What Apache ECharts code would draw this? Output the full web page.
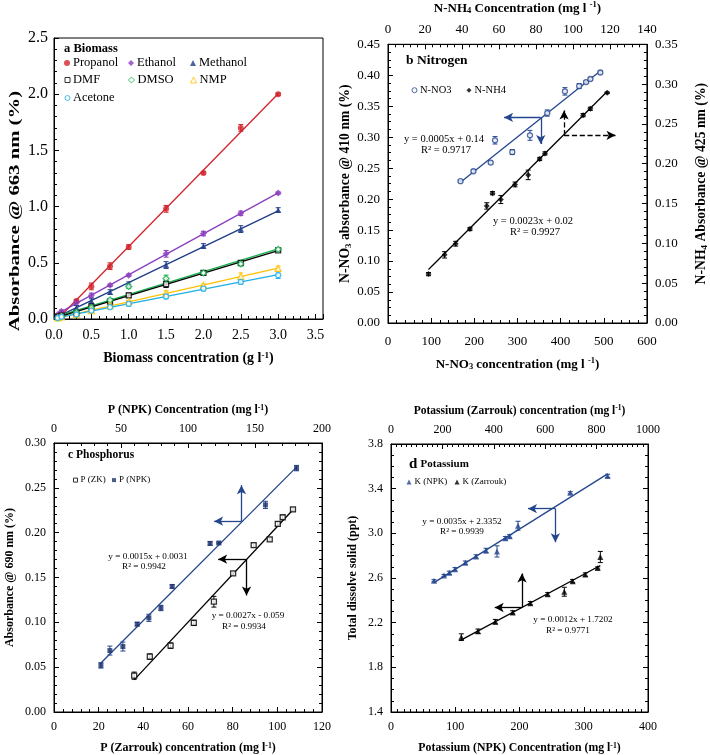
<!DOCTYPE html>
<html><head><meta charset="utf-8">
<script src="https://cdn.jsdelivr.net/npm/echarts@6/dist/echarts.min.js"></script>
<style>html,body{margin:0;padding:0;background:#fff}#c{width:710px;height:755px}</style>
</head><body><div id="c"></div>
<script>
// ---------- Panel a: Biomass ----------
const biomassX   = [0.05, 0.1, 0.3, 0.5, 0.75, 1.0, 1.5, 2.0, 2.5, 3.0];
const propanol   = [0.02, 0.05, 0.16, 0.29, 0.47, 0.64, 0.98, 1.30, 1.70, 2.00];
const propanolE  = [0, 0, 0.01, 0.03, 0.03, 0.02, 0.03, 0.01, 0.03, 0.01];
const ethanol    = [0.04, 0.07, 0.145, 0.21, 0.30, 0.39, 0.58, 0.76, 0.94, 1.12];
const ethanolE   = [0, 0.01, 0.01, 0.02, 0.01, 0.01, 0.03, 0.02, 0.02, 0.01];
const methanol   = [0.03, 0.05, 0.10, 0.16, 0.24, 0.31, 0.48, 0.65, 0.80, 0.97];
const methanolE  = [0, 0, 0.02, 0.02, 0.02, 0.02, 0.03, 0.02, 0.03, 0.02];
const dmf        = [0.02, 0.03, 0.05, 0.11, 0.155, 0.21, 0.31, 0.41, 0.50, 0.61];
const dmfE       = [0, 0, 0.01, 0.01, 0.01, 0.02, 0.03, 0.02, 0.02, 0.01];
const dmso       = [0.01, 0.02, 0.06, 0.10, 0.17, 0.29, 0.36, 0.41, 0.49, 0.62];
const dmsoE      = [0, 0, 0.01, 0.01, 0.01, 0.02, 0.03, 0.01, 0.02, 0.01];
const nmp        = [0.01, 0.02, 0.04, 0.075, 0.12, 0.155, 0.23, 0.30, 0.38, 0.45];
const nmpE       = [0, 0, 0.01, 0.01, 0.01, 0.01, 0.02, 0.01, 0.03, 0.02];
const acetone    = [0.01, 0.02, 0.04, 0.075, 0.105, 0.135, 0.20, 0.27, 0.33, 0.39];
const acetoneE   = [0, 0, 0.01, 0.01, 0.01, 0.02, 0.02, 0.02, 0.02, 0.03];

// ---------- Panel b: Nitrogen ----------
const no3X  = [168, 198, 238, 248, 288, 329, 369, 410, 443, 459, 469, 492];
const no3Y  = [0.229, 0.245, 0.259, 0.295, 0.276, 0.303, 0.339, 0.374, 0.3825, 0.389, 0.394, 0.4045];
const no3E  = [0.001, 0.002, 0.002, 0.006, 0.004, 0.008, 0.005, 0.006, 0.004, 0.002, 0.002, 0.002];
const nh4X  = [21.9, 30.6, 36.6, 44.3, 53.4, 56.5, 61.0, 68.7, 75.8, 82.0, 84.9, 105.5, 109.4, 118.5];
const nh4Y  = [0.0614, 0.0856, 0.0996, 0.118, 0.147, 0.163, 0.155, 0.174, 0.186, 0.206, 0.213, 0.261, 0.269, 0.289];
const nh4E  = [0.002, 0.004, 0.003, 0.002, 0.004, 0.002, 0.005, 0.003, 0.006, 0.002, 0.002, 0.002, 0.002, 0.001];

// ---------- Panel c: Phosphorus ----------
const pNpkX = [35.0, 41.7, 51.4, 62.1, 70.8, 79.8, 88.2, 116.5, 123.0, 157.8, 181.0];
const pNpkY = [0.052, 0.0685, 0.073, 0.098, 0.105, 0.116, 0.140, 0.188, 0.1885, 0.231, 0.272];
const pNpkE = [0.003, 0.005, 0.005, 0.002, 0.004, 0.003, 0.002, 0.002, 0.001, 0.004, 0.003];
const pZkX  = [35.9, 42.9, 52.2, 62.6, 71.6, 80.2, 89.4, 96.6, 100.2, 102.4, 107.0];
const pZkY  = [0.0405, 0.0618, 0.074, 0.0994, 0.123, 0.1546, 0.186, 0.1925, 0.2098, 0.2172, 0.226];
const pZkE  = [0.004, 0.003, 0.003, 0.003, 0.006, 0.002, 0.002, 0.002, 0.002, 0.002, 0.002];

// ---------- Panel d: Potassium ----------
const kNpkX = [66.9, 82.5, 90.8, 99.6, 115.7, 132.3, 147.9, 165.0, 178.0, 184.7, 197.7, 279.0, 337.2];
const kNpkY = [2.575, 2.622, 2.646, 2.678, 2.737, 2.793, 2.846, 2.838, 2.956, 2.973, 3.068, 3.363, 3.514];
const kNpkE = [0.01, 0.01, 0.015, 0.015, 0.015, 0.015, 0.02, 0.05, 0.015, 0.015, 0.04, 0.01, 0.015];
const kZarX = [273.7, 338.5, 406.0, 473.4, 542.2, 609.6, 674.4, 706.9, 756.2, 804.2, 814.5];
const kZarY = [2.070, 2.123, 2.209, 2.292, 2.374, 2.454, 2.477, 2.572, 2.631, 2.690, 2.788];
const kZarE = [0.03, 0.02, 0.02, 0.015, 0.015, 0.015, 0.04, 0.015, 0.015, 0.01, 0.05];

const FONT = 'Liberation Serif';
const BLUE = '#24468e';

function pairs(xs, ys) { return xs.map((x, i) => [x, ys[i]]).filter(d => d[1] != null); }
function fitLine(xs, ys) {
  const p = pairs(xs, ys); const n = p.length;
  let sx = 0, sy = 0, sxx = 0, sxy = 0;
  p.forEach(([x, y]) => { sx += x; sy += y; sxx += x * x; sxy += x * y; });
  const b = (n * sxy - sx * sy) / (n * sxx - sx * sx);
  const a = (sy - b * sx) / n;
  const x0 = Math.min(...p.map(d => d[0])), x1 = Math.max(...p.map(d => d[0]));
  return [[x0, a + b * x0], [x1, a + b * x1]];
}
function errSeries(xs, ys, es, color, xi, yi) {
  return {
    type: 'custom', xAxisIndex: xi, yAxisIndex: yi, silent: true, z: 3,
    data: xs.map((x, i) => [x, ys[i], es[i]]).filter(d => d[1] != null && d[2] > 0),
    encode: { x: 0, y: 1 },
    renderItem: function (params, api) {
      const x = api.value(0), y = api.value(1), e = api.value(2);
      const t = api.coord([x, y + e]), b = api.coord([x, y - e]);
      const w = 2.5, st = { stroke: color, lineWidth: 1 };
      return { type: 'group', children: [
        { type: 'line', shape: { x1: t[0], y1: t[1], x2: b[0], y2: b[1] }, style: st },
        { type: 'line', shape: { x1: t[0] - w, y1: t[1], x2: t[0] + w, y2: t[1] }, style: st },
        { type: 'line', shape: { x1: b[0] - w, y1: b[1], x2: b[0] + w, y2: b[1] }, style: st }
      ]};
    }
  };
}
function scatter(name, xs, ys, symbol, color, open, xi, yi, size) {
  return {
    name: name, type: 'scatter', xAxisIndex: xi, yAxisIndex: yi, z: 4,
    symbol: symbol, symbolSize: size || 6, data: pairs(xs, ys),
    itemStyle: open ? { color: '#fff', borderColor: color, borderWidth: 1.3 } : { color: color }
  };
}
function trend(name, xs, ys, color, xi, yi, arrows) {
  const s = {
    name: name, type: 'line', xAxisIndex: xi, yAxisIndex: yi, z: 2, silent: true,
    symbol: 'none', data: fitLine(xs, ys), lineStyle: { color: color, width: 1.3 }
  };
  if (arrows) s.markLine = arrows;
  return s;
}
function arrowSet(color, dashed, segs) {
  return {
    silent: true, symbol: ['none', 'arrow'], symbolSize: [7, 9],
    label: { show: false }, animation: false,
    lineStyle: { color: color, width: 1.3, type: dashed ? 'dashed' : 'solid' },
    emphasis: { disabled: true },
    data: segs.map(s => [{ coord: s[0] }, { coord: s[1] }])
  };
}
const tickIn = { show: true, inside: true, length: 5, lineStyle: { color: '#000' } };
const minorIn = n => ({ show: true, splitNumber: n, length: 3, lineStyle: { color: '#000' } });
const lbl = (size, dec, extra) => Object.assign({ fontFamily: FONT, fontSize: size, color: '#000',
  formatter: v => (+v).toFixed(dec) }, extra || {});
const rich = size => ({
  n: { fontFamily: FONT, fontWeight: 'bold', fontSize: size, color: '#000' },
  sup: { fontFamily: FONT, fontWeight: 'bold', fontSize: size * 0.65, color: '#000', verticalAlign: 'top', lineHeight: size },
  sub: { fontFamily: FONT, fontWeight: 'bold', fontSize: size * 0.65, color: '#000', verticalAlign: 'bottom', lineHeight: size * 1.1 }
});
function axis(opts) {
  return Object.assign({
    type: 'value', axisLine: { show: true, onZero: false, lineStyle: { color: '#000', width: 1 } },
    axisTick: tickIn, splitLine: { show: false }, nameLocation: 'middle'
  }, opts);
}

const xAxes = [
  axis({ gridIndex: 0, min: 0, max: 3.6, interval: 0.5, minorTick: minorIn(5),
    axisLabel: lbl(14, 1, { showMaxLabel: false, margin: 9 }),
    name: '{n|Biomass concentration (g l}{sup|-1}{n|)}', nameGap: 32, nameTextStyle: { rich: rich(14) } }),
  axis({ gridIndex: 1, position: 'bottom', min: 0, max: 600, interval: 100, minorTick: minorIn(5),
    axisLabel: lbl(13, 0, { margin: 12 }),
    name: '{n|N-NO}{sub|3}{n| concentration (mg l }{sup|-1}{n|)}', nameGap: 34, nameTextStyle: { rich: rich(13) } }),
  axis({ gridIndex: 1, position: 'top', min: 0, max: 140, interval: 20, minorTick: minorIn(5),
    axisLabel: lbl(13, 0, { margin: 8 }),
    name: '{n|N-NH}{sub|4}{n| Concentration (mg l }{sup|-1}{n|)}', nameGap: 29, nameTextStyle: { rich: rich(13) } }),
  axis({ gridIndex: 2, position: 'bottom', min: 0, max: 120, interval: 20, minorTick: minorIn(5),
    axisLabel: lbl(12, 0, { margin: 9 }),
    name: '{n|P (Zarrouk) concentration (mg l}{sup|-1}{n|)}', nameGap: 30, nameTextStyle: { rich: rich(12) } }),
  axis({ gridIndex: 2, position: 'top', min: 0, max: 200, interval: 50, minorTick: minorIn(5),
    axisLabel: lbl(12, 0, { margin: 8 }),
    name: '{n|P (NPK) Concentration (mg l}{sup|-1}{n|)}', nameGap: 27, nameTextStyle: { rich: rich(12) } }),
  axis({ gridIndex: 3, position: 'bottom', min: 0, max: 400, interval: 100, minorTick: minorIn(10),
    axisLabel: lbl(12, 0, { margin: 9 }),
    name: '{n|Potassium (NPK) Concentration (mg l}{sup|-1}{n|)}', nameGap: 30, nameTextStyle: { rich: rich(11.8) } }),
  axis({ gridIndex: 3, position: 'top', min: 0, max: 1000, interval: 200, minorTick: minorIn(10),
    axisLabel: lbl(12, 0, { margin: 8 }),
    name: '{n|Potassium (Zarrouk) concentration (mg l}{sup|-1}{n|)}', nameGap: 27, nameTextStyle: { rich: rich(11.5) } })
];
const yAxes = [
  axis({ gridIndex: 0, min: 0, max: 2.5, interval: 0.5, minorTick: minorIn(5),
    axisLabel: lbl(16, 1, { margin: 6 }) }),
  axis({ gridIndex: 1, position: 'left', min: 0, max: 0.45, interval: 0.05, minorTick: minorIn(4),
    axisLabel: lbl(13, 2, { margin: 8 }),
    name: '{n|N-NO}{sub|3}{n| absorbance @ 410 nm (%)}', nameGap: 33, nameTextStyle: { rich: rich(13.7) } }),
  axis({ gridIndex: 1, position: 'right', min: 0, max: 0.35, interval: 0.05, minorTick: minorIn(5),
    axisLabel: lbl(13, 2, { margin: 8 }),
    name: '{n|N-NH}{sub|4}{n| Absorbance @ 425 nm (%)}', nameGap: 47, nameTextStyle: { rich: rich(13.7) } }),
  axis({ gridIndex: 2, position: 'left', min: 0, max: 0.30, interval: 0.05, minorTick: minorIn(5),
    axisLabel: lbl(12, 2, { margin: 8 }),
    name: '{n|Absorbance @ 690 nm (%)}', nameGap: 38, nameTextStyle: { rich: rich(12) } }),
  axis({ gridIndex: 2, position: 'right', min: 0, max: 0.30, interval: 0.05, minorTick: minorIn(5),
    axisLabel: { show: false } }),
  axis({ gridIndex: 3, position: 'left', min: 1.4, max: 3.8, interval: 0.4, minorTick: minorIn(4),
    axisLabel: lbl(12, 1, { margin: 8 }),
    name: '{n|Total dissolve solid (ppt)}', nameGap: 32, nameTextStyle: { rich: rich(12) } }),
  axis({ gridIndex: 3, position: 'right', min: 1.4, max: 3.8, interval: 0.4, minorTick: minorIn(4),
    axisLabel: { show: false } })
];

const COL = { propanol: '#d2232a', ethanol: '#8a3fc0', methanol: '#1f3c88', dmf: '#000000',
  dmso: '#14b04c', nmp: '#ffc000', acetone: '#1eaee8' };

const series = [
  trend('Propanol fit', biomassX, propanol, COL.propanol, 0, 0),
  trend('Ethanol fit', biomassX, ethanol, COL.ethanol, 0, 0),
  trend('Methanol fit', biomassX, methanol, COL.methanol, 0, 0),
  trend('DMSO fit', biomassX, dmso, COL.dmso, 0, 0),
  trend('NMP fit', biomassX, nmp, COL.nmp, 0, 0),
  trend('Acetone fit', biomassX, acetone, COL.acetone, 0, 0),
  trend('DMF fit', biomassX, dmf, COL.dmf, 0, 0),
  errSeries(biomassX, propanol, propanolE, COL.propanol, 0, 0),
  errSeries(biomassX, ethanol, ethanolE, COL.ethanol, 0, 0),
  errSeries(biomassX, methanol, methanolE, COL.methanol, 0, 0),
  errSeries(biomassX, dmf, dmfE, COL.dmf, 0, 0),
  errSeries(biomassX, dmso, dmsoE, COL.dmso, 0, 0),
  errSeries(biomassX, nmp, nmpE, COL.nmp, 0, 0),
  errSeries(biomassX, acetone, acetoneE, COL.acetone, 0, 0),
  scatter('Propanol', biomassX, propanol, 'circle', COL.propanol, false, 0, 0, 6),
  scatter('Ethanol', biomassX, ethanol, 'diamond', COL.ethanol, false, 0, 0, 7),
  scatter('Methanol', biomassX, methanol, 'triangle', COL.methanol, false, 0, 0, 6),
  scatter('DMF', biomassX, dmf, 'rect', COL.dmf, true, 0, 0, 5),
  scatter('DMSO', biomassX, dmso, 'diamond', COL.dmso, true, 0, 0, 6),
  scatter('NMP', biomassX, nmp, 'triangle', COL.nmp, true, 0, 0, 6),
  scatter('Acetone', biomassX, acetone, 'circle', COL.acetone, true, 0, 0, 5),

  trend('N-NO3 fit', no3X, no3Y, BLUE, 1, 1,
    arrowSet(BLUE, false, [[[354, 0.332], [269, 0.332]], [[354, 0.332], [354, 0.289]]])),
  trend('N-NH4 fit', nh4X, nh4Y, '#000', 2, 2,
    arrowSet('#000', true, [[[95.2, 0.2357], [95.2, 0.2668]], [[95.2, 0.2357], [123, 0.2357]]])),
  errSeries(no3X, no3Y, no3E, BLUE, 1, 1),
  errSeries(nh4X, nh4Y, nh4E, '#000', 2, 2),
  scatter('N-NO3', no3X, no3Y, 'circle', BLUE, true, 1, 1, 5),
  scatter('N-NH4', nh4X, nh4Y, 'diamond', '#000', false, 2, 2, 6),

  trend('P (NPK) fit', pNpkX, pNpkY, BLUE, 4, 3,
    arrowSet(BLUE, false, [[[139.9, 0.2128], [119.5, 0.2128]], [[139.9, 0.2128], [139.9, 0.253]]])),
  trend('P (ZK) fit', pZkX, pZkY, '#000', 3, 3,
    arrowSet('#000', false, [[[86.2, 0.1704], [73.5, 0.1704]], [[86.2, 0.1704], [86.2, 0.130]]])),
  errSeries(pNpkX, pNpkY, pNpkE, BLUE, 4, 3),
  errSeries(pZkX, pZkY, pZkE, '#000', 3, 3),
  scatter('P (ZK)', pZkX, pZkY, 'rect', '#000', true, 3, 3, 5),
  scatter('P (NPK)', pNpkX, pNpkY, 'rect', '#1b2f6b', false, 4, 3, 5),

  trend('K (NPK) fit', kNpkX, kNpkY, BLUE, 5, 5,
    arrowSet(BLUE, false, [[[255.8, 3.221], [213.2, 3.221]], [[255.8, 3.221], [255.8, 2.92]]])),
  trend('K (Zarrouk) fit', kZarX, kZarY, '#000', 6, 5,
    arrowSet('#000', false, [[[509.7, 2.336], [403.4, 2.336]], [[509.7, 2.336], [509.7, 2.64]]])),
  errSeries(kNpkX, kNpkY, kNpkE, BLUE, 5, 5),
  errSeries(kZarX, kZarY, kZarE, '#000', 6, 5),
  scatter('K (NPK)', kNpkX, kNpkY, 'triangle', BLUE, false, 5, 5, 6),
  scatter('K (Zarrouk)', kZarX, kZarY, 'triangle', '#000', false, 6, 5, 6)
];

// one legend per entry so that the columns line up like the original
function legendItem(name, cx, cy, fs, isz) {
  return {
    data: [name], left: cx - isz / 2, top: cy - Math.max(isz, fs * 1.2) / 2, orient: 'horizontal', padding: 0,
    itemWidth: isz, itemHeight: isz, itemGap: 0, selectedMode: false,
    itemStyle: { borderWidth: 1 },
    textStyle: { fontFamily: FONT, fontSize: fs, color: '#000', padding: [0, 0, 0, -2] }
  };
}

const txt = (x, y, text, size, extra) => ({
  type: 'text', x: x, y: y, silent: true,
  style: Object.assign({ text: text, fontFamily: FONT, fontSize: size, fill: '#000', align: 'center', verticalAlign: 'middle' }, extra || {})
});
const boldRich = size => ({ b: { fontFamily: FONT, fontWeight: 'bold', fontSize: size } });

const option = {
  animation: false,
  backgroundColor: '#fff',
  grid: [
    { left: 54, top: 38, width: 269, height: 281, show: true, borderColor: '#000', borderWidth: 1 },
    { left: 388, top: 43, width: 260, height: 280, show: true, borderColor: '#000', borderWidth: 1 },
    { left: 54, top: 443, width: 268, height: 271, show: true, borderColor: '#000', borderWidth: 1 },
    { left: 391, top: 444, width: 257, height: 271, show: true, borderColor: '#000', borderWidth: 1 }
  ],
  xAxis: xAxes,
  yAxis: yAxes,
  legend: [
    legendItem('Propanol', 67, 64, 12.5, 6),
    legendItem('Ethanol', 131, 64, 12.5, 6),
    legendItem('Methanol', 193, 64, 12.5, 6),
    legendItem('DMF', 67, 81, 12.5, 5),
    legendItem('DMSO', 131, 81, 12.5, 6),
    legendItem('NMP', 193, 81, 12.5, 6),
    legendItem('Acetone', 67, 99, 12.5, 5),
    legendItem('N-NO3', 414, 91, 10.5, 5),
    legendItem('N-NH4', 469, 91, 10.5, 5),
    legendItem('P (ZK)', 75, 481, 9, 4),
    legendItem('P (NPK)', 114, 481, 9, 4),
    legendItem('K (NPK)', 409, 483, 9, 5),
    legendItem('K (Zarrouk)', 457, 483, 9, 5)
  ],
  graphic: [
    // y-axis title of panel a (tall, narrow lettering as in the original)
    { type: 'text', x: 15, y: 211, rotation: Math.PI / 2, scaleX: 1.48, silent: true,
      style: { text: 'Absorbance @ 663 nm (%)', fontFamily: FONT, fontWeight: 'bold', fontSize: 14, fill: '#000',
        align: 'center', verticalAlign: 'middle' } },
    txt(64, 49, '{b|a Biomass}', 12.5, { align: 'left', rich: boldRich(12.5) }),
    txt(406, 61, '{b|b Nitrogen}', 13.5, { align: 'left', rich: boldRich(13.5) }),
    txt(68, 455, '{b|c Phosphorus}', 11.5, { align: 'left', rich: boldRich(11.5) }),
    txt(409, 464, '{a|d} {b|Potassium}', 13, { align: 'left', rich: {
      a: { fontFamily: FONT, fontWeight: 'bold', fontSize: 15 }, b: { fontFamily: FONT, fontWeight: 'bold', fontSize: 11 } } }),
    txt(444, 139, 'y = 0.0005x + 0.14', 10.5),
    txt(446, 150, 'R² = 0.9717', 10.5),
    txt(533, 221, 'y = 0.0023x + 0.02', 10.5),
    txt(535, 232, 'R² = 0.9927', 10.5),
    txt(148, 557, 'y = 0.0015x + 0.0031', 9.2),
    txt(144, 567, 'R² = 0.9942', 9.2),
    txt(248, 616, 'y = 0.0027x - 0.059', 9.2),
    txt(244, 627, 'R² = 0.9934', 9.2),
    txt(462, 522, 'y = 0.0035x + 2.3352', 9.2),
    txt(462, 532, 'R² = 0.9939', 9.2),
    txt(573, 620, 'y = 0.0012x + 1.7202', 9.2),
    txt(568, 631, 'R² = 0.9771', 9.2)
  ],
  series: series
};
const chart = echarts.init(document.getElementById('c'), null, { renderer: 'canvas' });
chart.setOption(option);
</script>
</body></html>
